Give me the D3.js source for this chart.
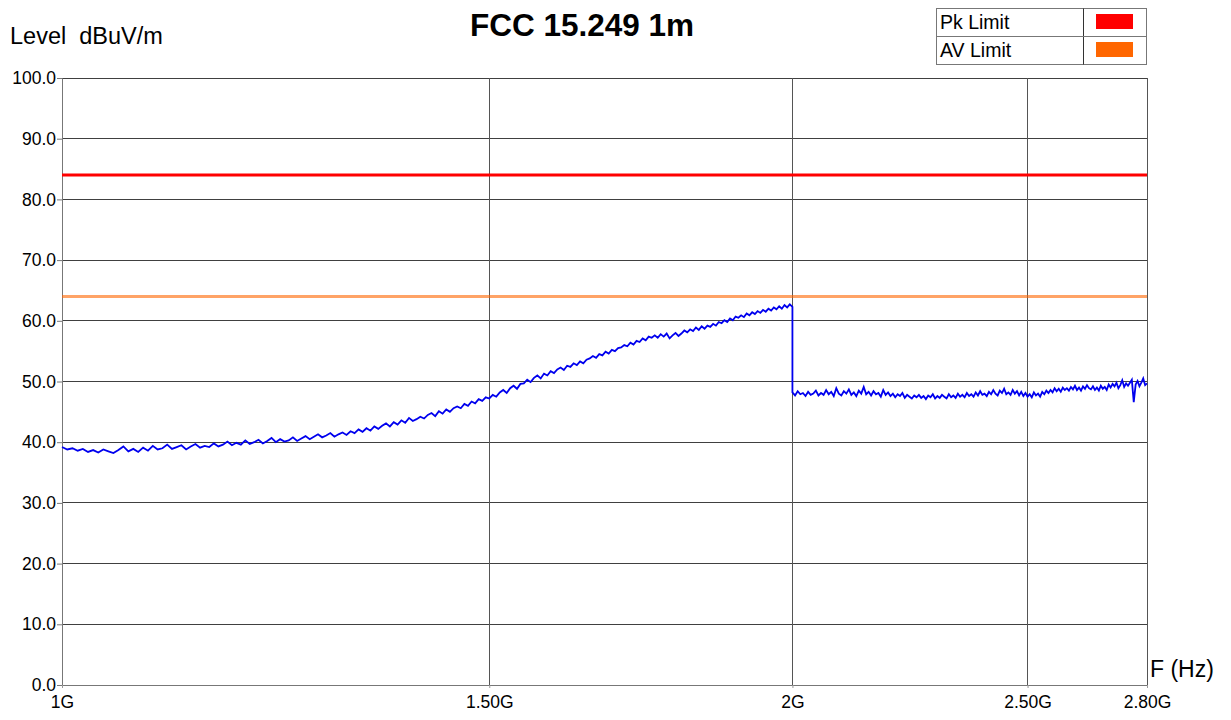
<!DOCTYPE html>
<html>
<head>
<meta charset="utf-8">
<script src="https://cdn.jsdelivr.net/npm/d3@7"></script>
<style>
  body { margin: 0; background: #fff; }
  text { font-family: "Liberation Sans", Arial, sans-serif; }
</style>
</head>
<body>
<script>
//sweep 1: 1 GHz to 2 GHz, 5 MHz steps (dBuV/m)
var sweep1Start = 1.0, sweep1Step = 0.005;
var sweep1Level = [
  39.2, 38.8, 39.0, 38.6, 38.9, 38.4, 38.7, 38.3, 38.8, 38.5, 38.2,
  38.7, 39.3, 38.5, 38.9, 38.4, 39.1, 38.6, 39.4, 38.8, 39.0,
  39.6, 38.9, 39.2, 39.5, 38.8, 39.3, 39.7, 39.1, 39.4, 39.2,
  39.8, 39.3, 39.6, 40.1, 39.5, 39.9, 39.6, 40.3, 39.7, 40.0,
  40.4, 39.8, 40.2, 40.7, 40.0, 40.5, 40.1, 40.3, 40.8, 40.2,
  40.6, 41.0, 40.5, 40.9, 41.3, 40.8, 41.1, 41.5, 40.9, 41.3,
  41.6, 41.2, 41.8, 41.5, 42.1, 41.7, 42.3, 41.9, 42.6, 42.2,
  42.7, 43.1, 42.6, 43.3, 42.9, 43.6, 43.2, 44.0, 43.5, 43.8,
  44.2, 43.9, 44.5, 44.8, 44.3, 45.1, 44.7, 45.4, 45.0, 45.6,
  45.9, 45.6, 46.3, 46.0, 46.7, 46.4, 47.1, 46.8, 47.4, 47.2,
  47.8, 47.5, 48.2, 48.6, 48.1, 48.9, 49.3, 48.8, 49.6, 49.7,
  50.3, 49.9, 50.6, 51.0, 50.5, 51.3, 51.0, 51.7, 51.4, 52.0,
  52.3, 51.9, 52.6, 52.4, 53.0, 52.7, 53.3, 53.0, 53.6, 53.8,
  54.2, 53.9, 54.5, 54.3, 54.9, 54.6, 55.2, 55.0, 55.5, 55.6,
  56.0, 55.8, 56.4, 56.1, 56.7, 56.5, 57.1, 56.8, 57.4, 57.2,
  57.6, 57.2, 57.8, 57.4, 57.9, 57.1, 57.6, 58.0, 57.5, 57.9,
  58.4, 58.1, 58.6, 58.3, 58.9, 58.5, 59.1, 58.7, 59.2, 59.0,
  59.5, 59.2, 59.8, 59.6, 60.1, 59.8, 60.4, 60.1, 60.7, 60.5,
  60.9, 60.6, 61.2, 60.9, 61.4, 61.1, 61.6, 61.3, 61.8, 61.5,
  62.0, 61.7, 62.2, 61.9, 62.4, 62.0, 62.6, 62.2, 62.7, 62.3
];

//sweep 2: 2 GHz to 2.8 GHz, 5 MHz steps (dBuV/m)
var sweep2Start = 2.0, sweep2Step = 0.005;
var sweep2Level = [
  48.2, 47.7, 48.4, 47.9, 48.1, 47.6, 48.3, 47.8, 48.0, 48.5, 47.7,
  48.1, 47.8, 48.6, 47.9, 48.3, 47.6, 48.9, 48.0, 47.7, 48.4,
  48.0, 48.7, 47.8, 48.2, 47.6, 48.5, 48.0, 49.1, 47.9, 48.3,
  47.7, 48.4, 47.9, 48.1, 47.5, 48.6, 47.8, 48.2, 47.6, 48.0,
  47.4, 47.9, 47.6, 48.1, 47.3, 47.8, 47.5, 47.2, 47.7, 47.4,
  47.8, 47.3, 47.6, 47.1, 47.7, 47.4, 47.9, 47.2, 47.6, 47.3,
  47.8, 47.5, 47.2, 47.9, 47.4, 47.7, 47.3, 48.0, 47.5, 47.8,
  47.4, 48.1, 47.6, 47.9, 47.5, 48.2, 47.7, 48.4, 47.8, 48.0,
  47.6, 48.3, 47.9, 48.6, 48.0, 47.7, 48.5, 48.1, 48.8, 47.9,
  48.2, 47.8, 48.6, 48.0, 48.4, 47.7, 48.3, 47.6, 48.1, 47.5,
  47.9, 47.4, 48.2, 47.7, 48.0, 47.5, 48.3, 47.9, 48.5, 48.1,
  48.6, 48.2, 48.9, 48.4, 48.8, 48.3, 49.0, 48.6, 48.9, 48.5,
  49.1, 48.7, 49.3, 48.6, 49.0, 48.5, 49.2, 48.8, 49.4, 48.9,
  48.7, 49.2, 48.6, 49.0, 48.5, 49.3, 48.8, 49.1, 48.6, 49.5,
  49.0, 49.6, 49.2, 49.8, 48.9, 49.4, 50.2, 49.1, 49.7, 49.3,
  49.8, 50.3, 46.6, 49.5, 50.1, 49.2, 49.8, 50.5, 49.4, 49.7
];

//limit lines
var limitNames = ["Pk Limit", "AV Limit"];
var limitValues = [84, 64];
var limitColors = ["#ff0000", "#ff6600"];

//axis ticks
var yTicks = [0, 10, 20, 30, 40, 50, 60, 70, 80, 90, 100];
var xTicks = [1.0, 1.5, 2.0, 2.5, 2.8];
var xTickLabels = ["1G", "1.50G", "2G", "2.50G", "2.80G"];

var width = 1231, height = 720;
var margin = {left: 62, right: 84, top: 78, bottom: 35};

var svg = d3.select("body").append("svg")
    .attr("width", width)
    .attr("height", height);

var x = d3.scaleLog()
    .domain([1.0, 2.8])
    .range([margin.left, width - margin.right]);

var y = d3.scaleLinear()
    .domain([0, 100])
    .range([height - margin.bottom, margin.top]);

//grid
svg.append("g").selectAll("line")
    .data(yTicks.slice(1))
    .enter().append("line")
    .attr("x1", x(1.0)).attr("x2", x(2.8))
    .attr("y1", function(d){ return y(d); })
    .attr("y2", function(d){ return y(d); })
    .attr("stroke", "#404040")
    .attr("stroke-width", 1)
    .attr("shape-rendering", "crispEdges");

svg.append("g").selectAll("line")
    .data(xTicks.slice(1))
    .enter().append("line")
    .attr("x1", function(d){ return x(d); })
    .attr("x2", function(d){ return x(d); })
    .attr("y1", y(0)).attr("y2", y(100))
    .attr("stroke", "#555")
    .attr("stroke-width", 1)
    .attr("shape-rendering", "crispEdges");

//y axis
var yAxis = d3.axisLeft(y)
    .tickValues(yTicks)
    .tickSize(5)
    .tickPadding(1)
    .tickFormat(d3.format(".1f"));
var gy = svg.append("g")
    .attr("transform", "translate(" + margin.left + ",0)")
    .call(yAxis);
gy.select(".domain").attr("stroke", "#777");
gy.selectAll(".tick line").attr("stroke", "#777");
gy.selectAll(".tick text")
    .attr("font-family", "Liberation Sans, Arial, sans-serif")
    .attr("font-size", 17.5)
    .attr("fill", "#000");

//x axis
var xAxis = d3.axisBottom(x)
    .tickValues(xTicks)
    .tickSize(3)
    .tickPadding(8)
    .tickFormat(function(d, i){ return xTickLabels[i]; });
var gx = svg.append("g")
    .attr("transform", "translate(0," + y(0) + ")")
    .call(xAxis);
gx.select(".domain").attr("stroke", "#777");
gx.selectAll(".tick line").attr("stroke", "#999");
gx.selectAll(".tick text")
    .attr("font-family", "Liberation Sans, Arial, sans-serif")
    .attr("font-size", 17.5)
    .attr("fill", "#000");

//limit lines
svg.append("g").selectAll("line")
    .data(limitValues)
    .enter().append("line")
    .attr("x1", x(1.0)).attr("x2", x(2.8))
    .attr("y1", function(d){ return y(d); })
    .attr("y2", function(d){ return y(d); })
    .attr("stroke", function(d, i){ return limitColors[i]; })
    .attr("stroke-opacity", function(d, i){ return i == 1 ? 0.6 : 1; })
    .attr("stroke-width", 3);

//measured trace
var trace = [];
sweep1Level.forEach(function(v, i){ trace.push([sweep1Start + i * sweep1Step, v]); });
sweep2Level.forEach(function(v, i){ trace.push([sweep2Start + i * sweep2Step, v]); });

var line = d3.line()
    .x(function(d){ return x(d[0]); })
    .y(function(d){ return y(d[1]); });

svg.append("path")
    .datum(trace)
    .attr("fill", "none")
    .attr("stroke", "#0000ee")
    .attr("stroke-width", 1.8)
    .attr("d", line);

//titles
svg.append("text")
    .attr("x", 582).attr("y", 36)
    .attr("text-anchor", "middle")
    .attr("font-size", 31.5)
    .attr("font-weight", "bold")
    .text("FCC 15.249 1m");

svg.append("text")
    .attr("x", 10).attr("y", 44)
    .attr("font-size", 23.5)
    .style("white-space", "pre")
    .text("Level  dBuV/m");

svg.append("text")
    .attr("x", 1150).attr("y", 677)
    .attr("font-size", 23)
    .text("F (Hz)");

//legend
var legend = svg.append("g");
legend.append("rect")
    .attr("x", 936.5).attr("y", 8.5)
    .attr("width", 210).attr("height", 56)
    .attr("fill", "#fff")
    .attr("stroke", "#777");
legend.append("line")
    .attr("x1", 1083.5).attr("x2", 1083.5)
    .attr("y1", 8.5).attr("y2", 64.5)
    .attr("stroke", "#333");
legend.append("line")
    .attr("x1", 936.5).attr("x2", 1146.5)
    .attr("y1", 36.5).attr("y2", 36.5)
    .attr("stroke", "#777");
legend.selectAll(".lt")
    .data(limitNames)
    .enter().append("text")
    .attr("class", "lt")
    .attr("x", 940)
    .attr("y", function(d, i){ return 29 + i * 28; })
    .attr("font-size", 19.5)
    .text(function(d){ return d; });
legend.selectAll(".sw")
    .data(limitColors)
    .enter().append("rect")
    .attr("class", "sw")
    .attr("x", 1096)
    .attr("y", function(d, i){ return 14 + i * 28; })
    .attr("width", 37).attr("height", 15)
    .attr("fill", function(d){ return d; });
</script>
</body>
</html>
